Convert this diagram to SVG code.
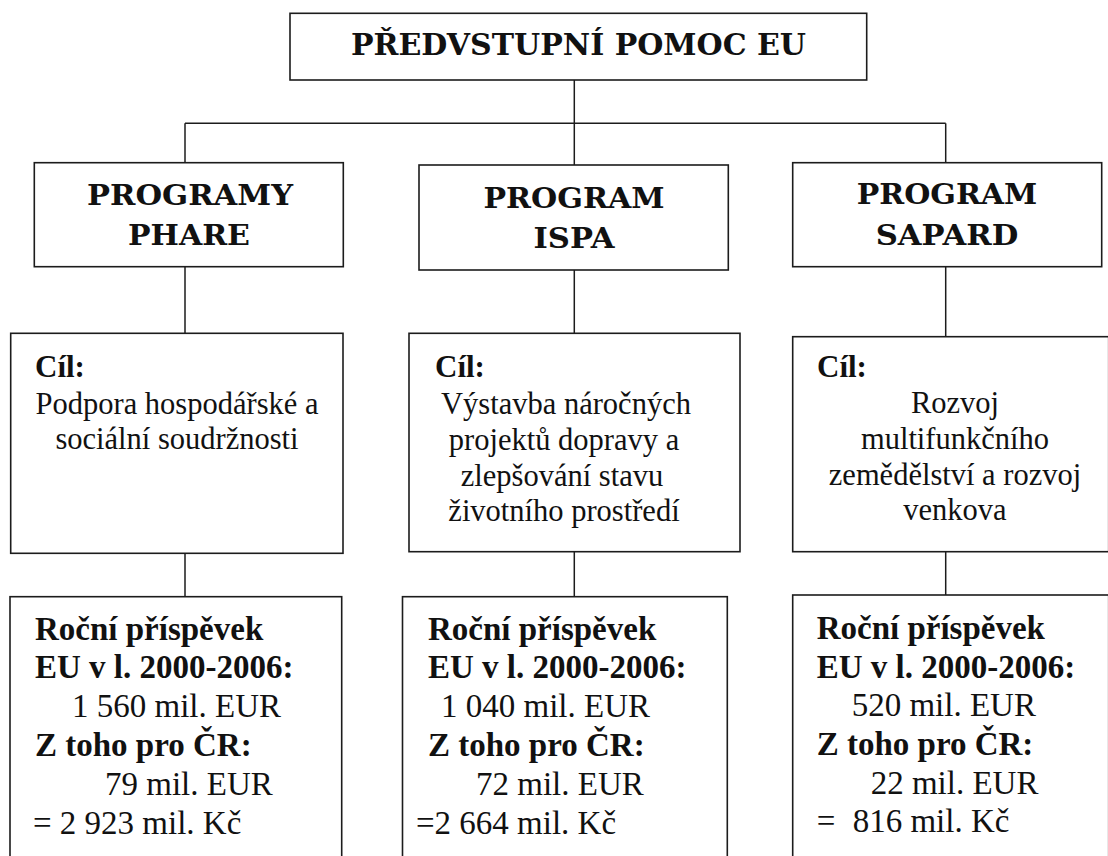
<svg xmlns="http://www.w3.org/2000/svg" width="1108" height="856" viewBox="0 0 1108 856">
<style>
.box{fill:#fff;stroke:#1c1c1c;stroke-width:1.6}
.ln{fill:none;stroke:#1c1c1c;stroke-width:1.5}
.hd{font-family:"DejaVu Serif",serif;font-weight:bold;fill:#111;text-anchor:middle}
.b{font-family:"Liberation Serif","Times New Roman",serif;font-weight:bold;font-size:33px;fill:#111}
.r{font-family:"Liberation Serif","Times New Roman",serif;font-size:33px;fill:#111}
.gc{font-family:"Liberation Serif","Times New Roman",serif;font-size:30.5px;fill:#111;text-anchor:middle}
.gb{font-family:"Liberation Serif","Times New Roman",serif;font-weight:bold;font-size:31px;fill:#111}
</style>
<rect width="1108" height="856" fill="#fff"/>
<g id="connectors">
<path class="ln" d="M574.3 80 V165"/>
<path class="ln" d="M185 123.3 H945.7"/>
<path class="ln" d="M185 123.3 V162.7"/>
<path class="ln" d="M945.7 123.3 V162.7"/>
<path class="ln" d="M185 266.7 V333.3 M185 553.3 V596.7"/>
<path class="ln" d="M574.3 270 V333.3 M574.3 551.7 V596.7"/>
<path class="ln" d="M945.7 266.7 V336.7 M945.7 551.7 V595"/>
</g>
<g id="root">
<rect class="box" x="290" y="13.3" width="576.7" height="66.7"/>
<text class="hd" x="578.5" y="55" font-size="30" textLength="455" lengthAdjust="spacingAndGlyphs">PŘEDVSTUPNÍ POMOC EU</text>
</g>
<g id="phare">
<rect class="box" x="34.3" y="162.7" width="309" height="104"/>
<text class="hd" x="190" y="205" font-size="28" textLength="206" lengthAdjust="spacingAndGlyphs">PROGRAMY</text>
<text class="hd" x="189" y="245" font-size="28" textLength="122" lengthAdjust="spacingAndGlyphs">PHARE</text>
</g>
<g id="ispa">
<rect class="box" x="419" y="165" width="309.3" height="105"/>
<text class="hd" x="574" y="208.3" font-size="28" textLength="181" lengthAdjust="spacingAndGlyphs">PROGRAM</text>
<text class="hd" x="574" y="248.3" font-size="28" textLength="81" lengthAdjust="spacingAndGlyphs">ISPA</text>
</g>
<g id="sapard">
<rect class="box" x="792.7" y="162.7" width="309" height="104"/>
<text class="hd" x="947" y="204" font-size="28" textLength="180.6" lengthAdjust="spacingAndGlyphs">PROGRAM</text>
<text class="hd" x="947" y="245" font-size="28" textLength="142.6" lengthAdjust="spacingAndGlyphs">SAPARD</text>
</g>
<g id="phare-goal">
<rect class="box" x="10.7" y="333.3" width="332.3" height="220"/>
<text class="gb" x="35" y="376.7">Cíl:</text>
<text class="gc" x="177" y="414">Podpora hospodářské a</text>
<text class="gc" x="177" y="449">sociální soudržnosti</text>
</g>
<g id="ispa-goal">
<rect class="box" x="409" y="333.3" width="331" height="218.4"/>
<text class="gb" x="435" y="376.7">Cíl:</text>
<text class="gc" x="566" y="414">Výstavba náročných</text>
<text class="gc" x="564" y="450">projektů dopravy a</text>
<text class="gc" x="562" y="486">zlepšování stavu</text>
<text class="gc" x="564" y="521">životního prostředí</text>
</g>
<g id="sapard-goal">
<rect class="box" x="792.7" y="336.7" width="316" height="215"/>
<text class="gb" x="817" y="376.7">Cíl:</text>
<text class="gc" x="955" y="413.3">Rozvoj</text>
<text class="gc" x="955" y="448.5">multifunkčního</text>
<text class="gc" x="955" y="484.5">zemědělství a rozvoj</text>
<text class="gc" x="955" y="520">venkova</text>
</g>
<g id="phare-money">
<rect class="box" x="10" y="596.7" width="331.7" height="280"/>
<text class="b" x="35" y="639.5">Roční příspěvek</text>
<text class="b" x="35" y="678">EU v l. 2000-2006:</text>
<text class="r" x="72" y="716.5">1 560 mil. EUR</text>
<text class="b" x="35" y="755.5">Z toho pro ČR:</text>
<text class="r" x="105" y="794.5">79 mil. EUR</text>
<text class="r" x="33" y="833.5">= 2 923 mil. Kč</text>
</g>
<g id="ispa-money">
<rect class="box" x="402.5" y="596.7" width="324.8" height="280"/>
<text class="b" x="428" y="639.5">Roční příspěvek</text>
<text class="b" x="428" y="678">EU v l. 2000-2006:</text>
<text class="r" x="441" y="716.5">1 040 mil. EUR</text>
<text class="b" x="428" y="755.5">Z toho pro ČR:</text>
<text class="r" x="476" y="794.5">72 mil. EUR</text>
<text class="r" x="416" y="833.5">=2 664 mil. Kč</text>
</g>
<g id="sapard-money">
<rect class="box" x="792.7" y="595" width="316" height="280"/>
<text class="b" x="816.7" y="639">Roční příspěvek</text>
<text class="b" x="816.7" y="677.5">EU v l. 2000-2006:</text>
<text class="r" x="851.7" y="716">520 mil. EUR</text>
<text class="b" x="816.7" y="755">Z toho pro ČR:</text>
<text class="r" x="870.7" y="794">22 mil. EUR</text>
<text class="r" x="816.7" y="832"><tspan>=</tspan><tspan x="852.7">816 mil. Kč</tspan></text>
</g>
</svg>
